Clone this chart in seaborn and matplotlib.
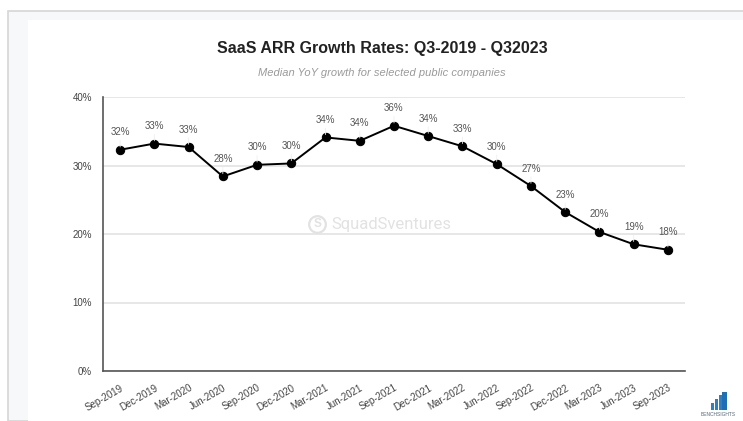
import matplotlib
matplotlib.use("Agg")
import matplotlib.pyplot as plt
import matplotlib.patches as mpatches
import seaborn as sns
import pandas as pd

# data
quarters = ['Sep-2019', 'Dec-2019', 'Mar-2020', 'Jun-2020', 'Sep-2020', 'Dec-2020',
            'Mar-2021', 'Jun-2021', 'Sep-2021', 'Dec-2021', 'Mar-2022', 'Jun-2022',
            'Sep-2022', 'Dec-2022', 'Mar-2023', 'Jun-2023', 'Sep-2023']
growth = [32.3, 33.2, 32.7, 28.4, 30.1, 30.3, 34.1, 33.6, 35.8, 34.3, 32.8, 30.2,
          27.0, 23.2, 20.3, 18.5, 17.7]
labels = ['32%', '33%', '33%', '28%', '30%', '30%', '34%', '34%', '36%', '34%', '33%',
          '30%', '27%', '23%', '20%', '19%', '18%']
y_ticks = [0, 10, 20, 30, 40]

df = pd.DataFrame({'idx': range(len(quarters)), 'quarter': quarters, 'growth': growth})

sns.set_style('white')
plt.rcParams['font.family'] = ['Liberation Sans', 'DejaVu Sans']

fig = plt.figure(figsize=(7.43, 4.21), dpi=100)
W, H = 743, 421

# screenshot-like frame
fig.patches.append(mpatches.Rectangle((8 / W, 0), 1, 1 - 11 / H, transform=fig.transFigure,
                                      facecolor='#f7f8fa', edgecolor='#d6d6d6', lw=1.2, zorder=-2))
fig.patches.append(mpatches.Rectangle((28 / W, 0), 1, 1 - 20 / H, transform=fig.transFigure,
                                      facecolor='white', edgecolor='none', zorder=-1))

ax = fig.add_axes([103 / W, (H - 371) / H, (685 - 103) / W, (371 - 97) / H])
ax.set_facecolor('none')
ax.set_zorder(1)

sns.lineplot(data=df, x='idx', y='growth', marker='o', color='black', lw=1.4,
             markersize=6, markeredgecolor='black', ax=ax, zorder=3)

for i, (v, lab) in enumerate(zip(growth, labels)):
    ax.annotate(lab, xy=(i, v), xytext=(0, 9), textcoords='offset points',
                ha='center', va='bottom', fontsize=7, color='#555555',
                arrowprops=dict(arrowstyle='-', color='#efefef', lw=0.6, shrinkA=0, shrinkB=2))

ax.set_xlim(-0.5, len(quarters) - 0.5)
ax.set_ylim(0, 40)
ax.set_yticks(y_ticks)
ax.set_yticklabels([f'{t}%' for t in y_ticks])
ax.set_xticks(df['idx'])
ax.set_xticklabels(quarters, rotation=30, ha='right', rotation_mode='anchor')
ax.tick_params(axis='x', direction='inout', length=7, width=1, color='#555555',
               labelsize=7, labelcolor='#444444', pad=5)
ax.tick_params(axis='y', length=0, labelsize=7, labelcolor='#444444', pad=8)
ax.yaxis.grid(True, color='#e3e3e3', lw=1.2)
ax.set_axisbelow(True)
ax.set_xlabel('')
ax.set_ylabel('')

for side in ['top', 'right']:
    ax.spines[side].set_visible(False)
for side in ['left', 'bottom']:
    ax.spines[side].set_color('#555555')
    ax.spines[side].set_linewidth(1.2)

# watermark
ax.text(0.495, 0.535, 'SquadSventures', transform=ax.transAxes, ha='center', va='center',
        fontsize=12, color='#e2e2e2', zorder=1, family=['Roboto', 'DejaVu Sans'])
ax.plot([0.368], [0.535], transform=ax.transAxes, marker='o', markersize=12,
        markerfacecolor='none', markeredgecolor='#e2e2e2', markeredgewidth=1.6, zorder=1)
ax.text(0.368, 0.535, 'S', transform=ax.transAxes, ha='center', va='center',
        fontsize=8.5, color='#e2e2e2', fontweight='bold', zorder=1)

fig.text(382 / W, 1 - 48 / H, 'SaaS ARR Growth Rates: Q3-2019 - Q32023', ha='center',
         va='center', fontsize=11.5, fontweight='bold', color='#222222')
fig.text(382 / W, 1 - 73 / H, 'Median YoY growth for selected public companies', ha='center',
         va='center', fontsize=8, style='italic', color='#9a9a9a')

# benchsights logo
for x0, hh in [(711, 7), (715, 11), (719, 15)]:
    fig.patches.append(mpatches.Rectangle((x0 / W, (H - 410) / H), 3 / W, hh / H,
                                          transform=fig.transFigure, facecolor='#2f7fc1',
                                          edgecolor='none'))
fig.patches.append(mpatches.Rectangle((722 / W, (H - 410) / H), 5 / W, 18 / H,
                                      transform=fig.transFigure, facecolor='#1f6fb5',
                                      edgecolor='none'))
fig.text(718 / W, 1 - 415 / H, 'BENCHSIGHTS', ha='center', va='center', fontsize=3.5,
         color='#556677')

fig.savefig('out.png', dpi=100)
